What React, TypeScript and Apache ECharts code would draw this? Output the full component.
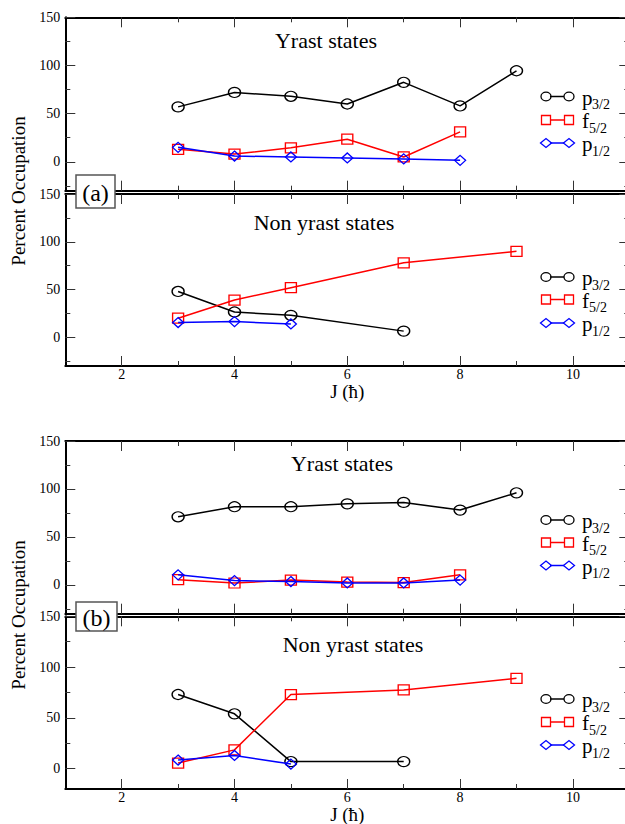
import { useEffect, useRef } from "react";
import * as echarts from "echarts";

// Angular momentum values (J, in units of hbar) for each sequence
const J_YRAST_P32 = [3, 4, 5, 6, 7, 8, 9];
const J_YRAST_OTHER = [3, 4, 5, 6, 7, 8];
const J_NON_P32 = [3, 4, 5, 7];
const J_NON_F52 = [3, 4, 5, 7, 9];
const J_NON_P12 = [3, 4, 5];

// (a) percent occupation
const aYrastP32 = [57, 72, 68, 60, 82.5, 58, 94.5];
const aYrastF52 = [13, 8, 14.5, 23.5, 5, 31];
const aYrastP12 = [15, 6, 5, 4, 3, 1.5];
const aNonP32 = [48, 26.5, 23, 6.5];
const aNonF52 = [20, 39, 52, 78, 90];
const aNonP12 = [15.5, 16.5, 14];

// (b) percent occupation
const bYrastP32 = [71, 81.5, 81.5, 84.5, 86, 78, 96];
const bYrastF52 = [5.5, 2, 5, 3, 2.5, 10.5];
const bYrastP12 = [10.5, 4.5, 3.5, 2, 2, 5];
const bNonP32 = [73, 54, 7, 7];
const bNonF52 = [5.5, 18.5, 73, 77.5, 89];
const bNonP12 = [8.5, 13, 4.5];

// Tick values
const X_MAJOR = [2, 4, 6, 8, 10];
const X_MINOR = [3, 5, 7, 9];
const Y_MAJOR = [0, 50, 100, 150];
const Y_MINOR = [-25, 25, 75, 125];

const FONT = "'Liberation Serif', 'Times New Roman', serif";
const BLACK = "#000000";
const RED = "#ff0000";
const BLUE = "#0000ff";

type Orbital = { main: string; sub: string; color: string; shape: "circle" | "rect" | "diamond" };
const ORBITALS: Orbital[] = [
  { main: "p", sub: "3/2", color: BLACK, shape: "circle" },
  { main: "f", sub: "5/2", color: RED, shape: "rect" },
  { main: "p", sub: "1/2", color: BLUE, shape: "diamond" },
];

type Panel = {
  top: number;
  height: number;
  yMin: number;
  bottomLabels: boolean;
  nameGap: number;
  title: string;
  titleX: number;
  titleY: number;
  legendY: number[];
  series: { js: number[]; vals: number[] }[];
};

const PANELS: Panel[] = [
  {
    top: 17.3, height: 173.4, yMin: -30, bottomLabels: false, nameGap: 0,
    title: "Yrast states", titleX: 326, titleY: 40,
    legendY: [96.5, 120, 143],
    series: [
      { js: J_YRAST_P32, vals: aYrastP32 },
      { js: J_YRAST_OTHER, vals: aYrastF52 },
      { js: J_YRAST_OTHER, vals: aYrastP12 },
    ],
  },
  {
    top: 194, height: 172, yMin: -30, bottomLabels: true, nameGap: 9,
    title: "Non yrast states", titleX: 324, titleY: 222,
    legendY: [277, 299.5, 323],
    series: [
      { js: J_NON_P32, vals: aNonP32 },
      { js: J_NON_F52, vals: aNonF52 },
      { js: J_NON_P12, vals: aNonP12 },
    ],
  },
  {
    top: 441, height: 172.7, yMin: -30, bottomLabels: false, nameGap: 0,
    title: "Yrast states", titleX: 342, titleY: 463,
    legendY: [520, 542.5, 565.5],
    series: [
      { js: J_YRAST_P32, vals: bYrastP32 },
      { js: J_YRAST_OTHER, vals: bYrastF52 },
      { js: J_YRAST_OTHER, vals: bYrastP12 },
    ],
  },
  {
    top: 616.3, height: 172.7, yMin: -20, bottomLabels: true, nameGap: 6,
    title: "Non yrast states", titleX: 353, titleY: 644,
    legendY: [699, 722, 745],
    series: [
      { js: J_NON_P32, vals: bNonP32 },
      { js: J_NON_F52, vals: bNonF52 },
      { js: J_NON_P12, vals: bNonP12 },
    ],
  },
];

const GRID_LEFT = 65.3;
const GRID_WIDTH = 564;

const SYMBOL: Record<Orbital["shape"], { symbol: string; size: number[] }> = {
  circle: { symbol: "circle", size: [12, 10] },
  rect: { symbol: "rect", size: [11, 10] },
  diamond: { symbol: "diamond", size: [11, 10] },
};

function legendMarker(shape: Orbital["shape"], cx: number, cy: number, color: string) {
  const style = { fill: "none", stroke: color, lineWidth: 1.3 };
  if (shape === "circle") {
    return { type: "ellipse", shape: { cx, cy, rx: 5, ry: 4.3 }, style, z: 60 };
  }
  if (shape === "rect") {
    return { type: "rect", shape: { x: cx - 4.5, y: cy - 4.5, width: 9, height: 9 }, style, z: 60 };
  }
  return {
    type: "polygon",
    shape: { points: [[cx - 5.5, cy], [cx, cy - 4.5], [cx + 5.5, cy], [cx, cy + 4.5]] },
    style,
    z: 60,
  };
}

function buildOption() {
  const grid: any[] = [];
  const xAxis: any[] = [];
  const yAxis: any[] = [];
  const series: any[] = [];
  const graphic: any[] = [];

  const axisLine = { show: true, onZero: false, lineStyle: { color: BLACK, width: 2 } };
  const hiddenLine = { show: false, onZero: false };
  const tick = (values: number[], length: number) => ({
    show: true,
    inside: true,
    length,
    customValues: values,
    lineStyle: { color: "#333", width: 1 },
  });
  const labelStyle = { color: BLACK, fontFamily: FONT, fontSize: 14 };

  PANELS.forEach((p, i) => {
    grid.push({ left: GRID_LEFT, top: p.top, width: GRID_WIDTH, height: p.height, outerBoundsMode: "none" });
    const base = i * 4;
    const xCommon = { type: "value", gridIndex: i, min: 1, max: 11, splitLine: { show: false } };
    xAxis.push({
      ...xCommon,
      position: "bottom",
      axisLine,
      axisTick: tick(X_MAJOR, 10),
      axisLabel: { show: p.bottomLabels, customValues: X_MAJOR, margin: 1, ...labelStyle },
      name: p.bottomLabels ? "J (ħ)" : "",
      nameLocation: "middle",
      nameGap: p.nameGap,
      nameTextStyle: { color: BLACK, fontFamily: FONT, fontSize: 19, verticalAlign: "top" },
    });
    xAxis.push({ ...xCommon, position: "bottom", axisLine: hiddenLine, axisTick: tick(X_MINOR, 5), axisLabel: { show: false } });
    xAxis.push({ ...xCommon, position: "top", axisLine, axisTick: tick(X_MAJOR, 10), axisLabel: { show: false } });
    xAxis.push({ ...xCommon, position: "top", axisLine: hiddenLine, axisTick: tick(X_MINOR, 5), axisLabel: { show: false } });

    const yCommon = { type: "value", gridIndex: i, min: p.yMin, max: 150, splitLine: { show: false } };
    const minor = Y_MINOR.filter((v) => v > p.yMin);
    yAxis.push({
      ...yCommon,
      position: "left",
      axisLine,
      axisTick: tick(Y_MAJOR, 10),
      axisLabel: { show: true, customValues: Y_MAJOR, margin: 5, ...labelStyle },
    });
    yAxis.push({ ...yCommon, position: "left", axisLine: hiddenLine, axisTick: tick(minor, 5), axisLabel: { show: false } });
    yAxis.push({ ...yCommon, position: "right", axisLine, axisTick: tick(Y_MAJOR, 10), axisLabel: { show: false } });
    yAxis.push({ ...yCommon, position: "right", axisLine: hiddenLine, axisTick: tick(minor, 5), axisLabel: { show: false } });

    p.series.forEach((s, k) => {
      const orb = ORBITALS[k];
      const sym = SYMBOL[orb.shape];
      series.push({
        type: "line",
        name: orb.main + orb.sub,
        xAxisIndex: base,
        yAxisIndex: base,
        data: s.js.map((j, n) => [j, s.vals[n]]),
        symbol: sym.symbol,
        symbolSize: sym.size,
        showSymbol: true,
        lineStyle: { color: orb.color, width: 1.5 },
        itemStyle: { color: "rgba(255,255,255,0)", borderColor: orb.color, borderWidth: 1.3 },
        emphasis: { disabled: true },
        z: 2 + k,
      });
    });

    // panel heading
    graphic.push({
      type: "text",
      x: p.titleX,
      y: p.titleY,
      style: { text: p.title, font: `22px ${FONT}`, fill: BLACK, align: "center", verticalAlign: "middle" },
      z: 50,
    });

    // legend: marker - line - marker, then the orbital label with subscript
    ORBITALS.forEach((orb, k) => {
      const y = p.legendY[k];
      graphic.push({
        type: "line",
        shape: { x1: 550, y1: y, x2: 564, y2: y },
        style: { stroke: orb.color, lineWidth: 1.5 },
        z: 60,
      });
      graphic.push(legendMarker(orb.shape, 546, y, orb.color));
      graphic.push(legendMarker(orb.shape, 569, y, orb.color));
      graphic.push({
        type: "text",
        x: 582,
        y: y + 1,
        style: { text: orb.main, font: `21px ${FONT}`, fill: BLACK, align: "left", verticalAlign: "middle" },
        z: 60,
      });
      graphic.push({
        type: "text",
        x: orb.main === "f" ? 589 : 592,
        y: y + 8,
        style: { text: orb.sub, font: `14px ${FONT}`, fill: BLACK, align: "left", verticalAlign: "middle" },
        z: 60,
      });
    });
  });

  // figure tags and shared y titles
  const tags = [
    { label: "(a)", x: 76, y: 175, w: 39, h: 33 },
    { label: "(b)", x: 76, y: 602, w: 41, h: 29 },
  ];
  tags.forEach((t) => {
    graphic.push({
      type: "rect",
      shape: { x: t.x, y: t.y, width: t.w, height: t.h },
      style: { fill: "#ffffff", stroke: "#555", lineWidth: 1.5 },
      z: 100,
    });
    graphic.push({
      type: "text",
      x: t.x + t.w / 2,
      y: t.y + t.h / 2 + 1,
      style: { text: t.label, font: `24px ${FONT}`, fill: BLACK, align: "center", verticalAlign: "middle" },
      z: 101,
    });
  });
  [191, 615].forEach((cy) => {
    graphic.push({
      type: "text",
      x: 18,
      y: cy,
      rotation: Math.PI / 2,
      style: { text: "Percent Occupation", font: `19px ${FONT}`, fill: BLACK, align: "center", verticalAlign: "middle" },
      z: 50,
    });
  });

  return { animation: false, backgroundColor: "#ffffff", grid, xAxis, yAxis, series, graphic };
}

export default function App() {
  const ref = useRef<HTMLDivElement>(null);
  useEffect(() => {
    if (!ref.current) return;
    const chart = echarts.init(ref.current, null, { renderer: "svg" });
    chart.setOption(buildOption() as any);
    return () => chart.dispose();
  }, []);
  return (
    <div
      ref={ref}
      style={{ position: "absolute", left: 0, top: 0, width: 625, height: 824, background: "#fff" }}
    />
  );
}
